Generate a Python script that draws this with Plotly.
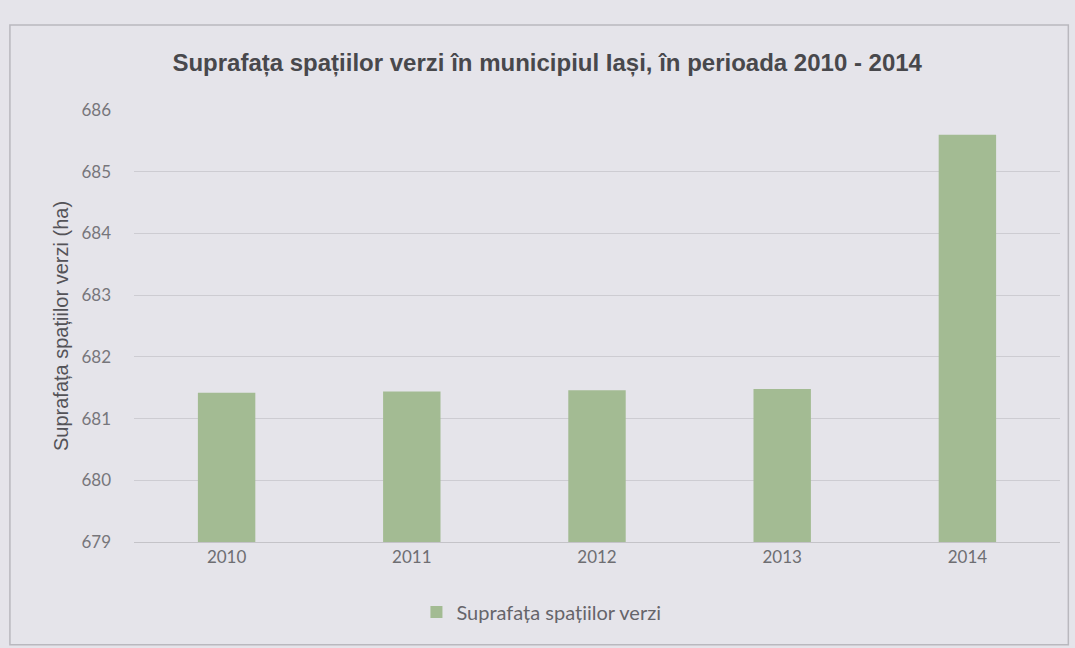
import plotly.graph_objects as go

years = ["2010", "2011", "2012", "2013", "2014"]
green_area_ha = [681.42, 681.44, 681.46, 681.48, 685.6]
y_ticks = [679, 680, 681, 682, 683, 684, 685, 686]

fig = go.Figure()
fig.add_trace(go.Bar(
    x=years,
    y=green_area_ha,
    name="Suprafața spațiilor verzi",
    marker=dict(color="#a3bb93", line=dict(width=0)),
    width=0.31,
))

fig.update_layout(
    width=1075,
    height=648,
    paper_bgcolor="#e5e4ea",
    plot_bgcolor="#e5e4ea",
    margin=dict(l=134, r=15, t=110, b=106),
    title=dict(
        text="<b>Suprafața spațiilor verzi în municipiul Iași, în perioada 2010 - 2014</b>",
        x=0.509, xref="container", y=0.904, yref="container",
        xanchor="center", yanchor="middle",
        font=dict(family="Liberation Sans, Arial, sans-serif", size=24, color="#48484c"),
    ),
    xaxis=dict(
        type="category",
        showgrid=False,
        showline=True,
        linecolor="#c4c3c8",
        ticks="",
        tickfont=dict(family="Lato, Open Sans, sans-serif", size=17, color="#6e6e72"),
    ),
    yaxis=dict(
        range=[679, 686],
        tickvals=y_ticks,
        showgrid=True,
        gridcolor="#cdccd2",
        gridwidth=1,
        zeroline=False,
        ticks="",
        ticklabelstandoff=22,
        tickfont=dict(family="Lato, Open Sans, sans-serif", size=17, color="#77767b"),
        title=dict(
            text="Suprafața spațiilor verzi (ha)",
            font=dict(family="Liberation Sans, Arial, sans-serif", size=20, color="#545358"),
            standoff=7,
        ),
    ),
    showlegend=True,
    legend=dict(
        orientation="h",
        x=0.44, xanchor="center",
        y=-0.162, yanchor="middle",
        font=dict(family="Lato, Open Sans, sans-serif", size=20, color="#66656a"),
        bgcolor="rgba(0,0,0,0)",
        itemwidth=30,
    ),
    shapes=[dict(
        type="rect", xref="paper", yref="paper",
        x0=-0.134, x1=1.009, y0=-0.238, y1=1.197,
        line=dict(color="#b9b8be", width=1.5),
        fillcolor="rgba(0,0,0,0)",
        layer="below",
    )],
)

fig.write_html("out.html")
